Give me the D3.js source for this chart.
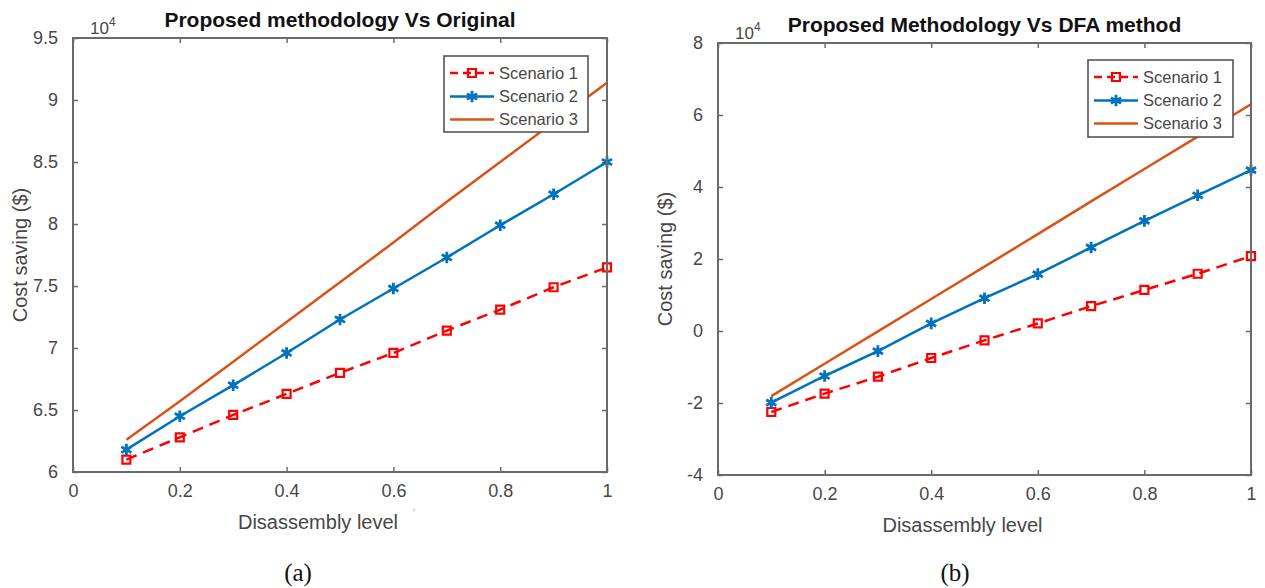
<!DOCTYPE html>
<html>
<head>
<meta charset="utf-8">
<script src="https://cdn.jsdelivr.net/npm/d3@7"></script>
<style>
  body { margin: 0; background: #fff; }
  svg { display: block; }
  text { font-family: "Liberation Sans", Arial, Helvetica, sans-serif; }
</style>
</head>
<body>
<svg id="chart" width="1265" height="588"></svg>
<script>
// Disassembly levels on the x axis
const disassemblyLevel = [0.1, 0.2, 0.3, 0.4, 0.5, 0.6, 0.7, 0.8, 0.9, 1.0];
const xTicks = [0, 0.2, 0.4, 0.6, 0.8, 1];
const scenarioNames = ["Scenario 1", "Scenario 2", "Scenario 3"];

// (a) Proposed methodology vs original — cost saving, x10^4 $
const originalScenario1 = [6.10, 6.28, 6.46, 6.63, 6.80, 6.96, 7.14, 7.31, 7.49, 7.65];
const originalScenario2 = [6.18, 6.45, 6.70, 6.96, 7.23, 7.48, 7.73, 7.99, 8.24, 8.50];
const originalScenario3 = [6.26, 6.57, 6.89, 7.21, 7.53, 7.85, 8.18, 8.50, 8.82, 9.14];
const originalYTicks = [6, 6.5, 7, 7.5, 8, 8.5, 9, 9.5];

// (b) Proposed methodology vs DFA method — cost saving, x10^4 $
const dfaScenario1 = [-2.25, -1.74, -1.27, -0.75, -0.26, 0.21, 0.69, 1.14, 1.59, 2.08];
const dfaScenario2 = [-1.99, -1.25, -0.56, 0.21, 0.91, 1.58, 2.32, 3.06, 3.77, 4.47];
const dfaScenario3 = [-1.81, -0.91, -0.01, 0.89, 1.79, 2.69, 3.60, 4.50, 5.40, 6.30];
const dfaYTicks = [-4, -2, 0, 2, 4, 6, 8];

// Line styles per scenario
const scenarioStyles = [
  { color: "#ff0000", dash: "11,7", marker: "square" },
  { color: "#0072bd", dash: null, marker: "asterisk" },
  { color: "#d95319", dash: null, marker: null }
];

const panels = [
  {
    title: "Proposed methodology Vs Original",
    caption: "(a)",
    box: { left: 73, right: 607, top: 38, bottom: 472 },
    yTicks: originalYTicks,
    series: [originalScenario1, originalScenario2, originalScenario3],
    legend: { x: 444, y: 56, w: 144, h: 76 },
    captionX: 298,
    strayMark: true
  },
  {
    title: "Proposed Methodology Vs DFA method",
    caption: "(b)",
    box: { left: 718, right: 1251, top: 43, bottom: 475 },
    yTicks: dfaYTicks,
    series: [dfaScenario1, dfaScenario2, dfaScenario3],
    legend: { x: 1088, y: 60, w: 145, h: 77 },
    captionX: 955,
    strayMark: false
  }
];

const svg = d3.select("#chart");
const axisColor = "#6a6a6a";
const tickTextColor = "#474747";

function drawMarker(g, type, x, y, color) {
  if (type === "square") {
    g.append("path")
      .attr("d", d3.symbol(d3.symbolSquare, 64)())
      .attr("transform", `translate(${x},${y})`)
      .attr("fill", "none")
      .attr("stroke", color)
      .attr("stroke-width", 2.2);
  } else if (type === "asterisk") {
    g.append("path")
      .attr("d", d3.symbol(d3.symbolAsterisk, 95)())
      .attr("transform", `translate(${x},${y})`)
      .attr("fill", "none")
      .attr("stroke", color)
      .attr("stroke-width", 2.8);
  }
}

panels.forEach(p => {
  const b = p.box;
  const x = d3.scaleLinear().domain([0, 1]).range([b.left, b.right]);
  const y = d3.scaleLinear()
    .domain([d3.min(p.yTicks), d3.max(p.yTicks)])
    .range([b.bottom, b.top]);
  const g = svg.append("g");

  // Ticks inside the box on all four sides
  const fmt = d => String(d);
  g.append("g").attr("transform", `translate(0,${b.bottom})`)
    .call(d3.axisBottom(x).tickValues(xTicks).tickFormat(fmt).tickSizeInner(-5).tickSizeOuter(0).tickPadding(12))
    .call(a => a.select(".domain").remove());
  g.append("g").attr("transform", `translate(0,${b.top})`)
    .call(d3.axisTop(x).tickValues(xTicks).tickFormat("").tickSizeInner(-5).tickSizeOuter(0))
    .call(a => a.select(".domain").remove());
  g.append("g").attr("transform", `translate(${b.left},0)`)
    .call(d3.axisLeft(y).tickValues(p.yTicks).tickFormat(fmt).tickSizeInner(-5).tickSizeOuter(0).tickPadding(15))
    .call(a => a.select(".domain").remove());
  g.append("g").attr("transform", `translate(${b.right},0)`)
    .call(d3.axisRight(y).tickValues(p.yTicks).tickFormat("").tickSizeInner(-5).tickSizeOuter(0))
    .call(a => a.select(".domain").remove());

  g.selectAll(".tick line").attr("stroke", axisColor).attr("stroke-width", 1.5);
  g.selectAll(".tick text")
    .attr("fill", tickTextColor)
    .style("font-size", "18px")
    .style("font-family", "'Liberation Sans', Arial, sans-serif");

  // Series lines and markers
  p.series.forEach((vals, i) => {
    const st = scenarioStyles[i];
    const pts = disassemblyLevel.map((lv, k) => [x(lv), y(vals[k])]);
    g.append("path")
      .attr("d", d3.line()(pts))
      .attr("fill", "none")
      .attr("stroke", st.color)
      .attr("stroke-width", 2.5)
      .attr("stroke-dasharray", st.dash);
    if (st.marker) {
      const mg = g.append("g");
      pts.forEach(pt => drawMarker(mg, st.marker, pt[0], pt[1], st.color));
    }
  });

  // Axes box
  g.append("rect")
    .attr("x", b.left).attr("y", b.top)
    .attr("width", b.right - b.left).attr("height", b.bottom - b.top)
    .attr("fill", "none").attr("stroke", axisColor).attr("stroke-width", 2);

  // Exponent label
  const ex = g.append("text")
    .attr("x", b.left + 17).attr("y", b.top - 4)
    .attr("fill", tickTextColor).style("font-size", "17px");
  ex.append("tspan").text("10");
  ex.append("tspan").attr("dy", -8).style("font-size", "12px").text("4");

  // Title
  g.append("text")
    .attr("x", (b.left + b.right) / 2).attr("y", b.top - 11)
    .attr("text-anchor", "middle")
    .attr("fill", "#111")
    .style("font-size", "21px").style("font-weight", "bold")
    .text(p.title);

  // Axis labels
  g.append("text")
    .attr("x", (b.left + b.right) / 2 - 22).attr("y", b.bottom + 57)
    .attr("text-anchor", "middle")
    .attr("fill", tickTextColor)
    .style("font-size", "20px")
    .text("Disassembly level");
  if (p.strayMark) {
    g.append("text")
      .attr("x", (b.left + b.right) / 2 + 73).attr("y", b.bottom + 45)
      .attr("fill", "#999").style("font-size", "10px").text("'");
  }
  g.append("text")
    .attr("transform", `translate(${b.left - 46},${(b.top + b.bottom) / 2}) rotate(-90)`)
    .attr("text-anchor", "middle")
    .attr("fill", tickTextColor)
    .style("font-size", "20px")
    .text("Cost saving ($)");

  // Legend
  const L = p.legend;
  const lg = g.append("g");
  lg.append("rect")
    .attr("x", L.x).attr("y", L.y).attr("width", L.w).attr("height", L.h)
    .attr("fill", "#fff").attr("stroke", "#555").attr("stroke-width", 1.6);
  const rowY = [17, 40.5, 63.5];
  scenarioNames.forEach((name, i) => {
    const st = scenarioStyles[i];
    const ry = L.y + rowY[i];
    lg.append("line")
      .attr("x1", L.x + 6).attr("x2", L.x + 50)
      .attr("y1", ry).attr("y2", ry)
      .attr("stroke", st.color).attr("stroke-width", 2.5)
      .attr("stroke-dasharray", st.dash ? "8,5" : null);
    if (st.marker) drawMarker(lg, st.marker, L.x + 28, ry, st.color);
    lg.append("text")
      .attr("x", L.x + 55).attr("y", ry).attr("dy", "0.36em")
      .attr("fill", tickTextColor)
      .style("font-size", "16.5px")
      .text(name);
  });

  // Sub-figure caption
  svg.append("text")
    .attr("x", p.captionX).attr("y", 581)
    .attr("text-anchor", "middle")
    .attr("fill", "#111")
    .style("font-family", "'Liberation Serif', 'Times New Roman', serif")
    .style("font-size", "25px")
    .text(p.caption);
});
</script>
</body>
</html>
